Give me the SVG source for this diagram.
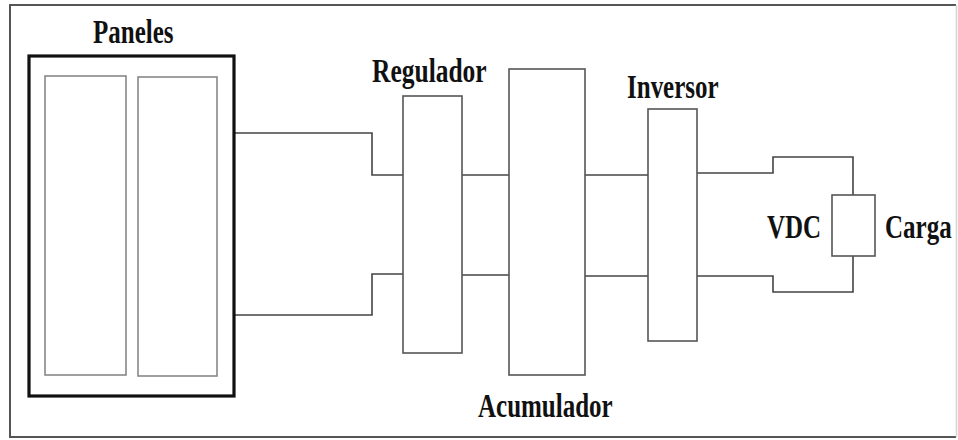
<svg xmlns="http://www.w3.org/2000/svg" width="958" height="440" viewBox="0 0 958 440">
  <style>
    .frame { fill: none; stroke: #555; stroke-width: 2; }
    .frame-edge { fill: none; stroke: #d4d4d4; stroke-width: 1.5; }
    .box { fill: #fff; stroke: #555; stroke-width: 1.6; }
    .panel { fill: #fff; stroke: #111; stroke-width: 3.2; }
    .cell { fill: #fff; stroke: #888; stroke-width: 1.6; }
    .wire { fill: none; stroke: #444; stroke-width: 1.6; }
    .lbl { font-family: "Liberation Serif", "Times New Roman", serif; font-weight: bold; font-size: 25px; fill: #111; }
  </style>
  <rect width="958" height="440" fill="#fff"/>
  <!-- outer border: top, left and bottom drawn solid, right edge faint -->
  <polyline class="frame" points="956,5 10,5 10,437 956,437"/>
  <line class="frame-edge" x1="956.5" y1="5" x2="956.5" y2="437"/>

  <g id="connectors">
    <!-- panel array to charge regulator -->
    <polyline class="wire" points="234,133 372,133 372,175 403,175"/>
    <polyline class="wire" points="234,315 372,315 372,274 403,274"/>
    <!-- regulator to battery bank -->
    <line class="wire" x1="462" y1="175" x2="509" y2="175"/>
    <line class="wire" x1="462" y1="275" x2="509" y2="275"/>
    <!-- battery bank to inverter -->
    <line class="wire" x1="585" y1="175" x2="648" y2="175"/>
    <line class="wire" x1="585" y1="276" x2="648" y2="276"/>
    <!-- inverter to load -->
    <polyline class="wire" points="697,173 773,173 773,157 853,157 853,195"/>
    <polyline class="wire" points="697,276 773,276 773,292 853,292 853,256"/>
  </g>

  <!-- labels use a tall, narrow serif: 25px type stretched vertically from its baseline -->
  <g id="paneles">
    <rect class="panel" x="29" y="56" width="205" height="340"/>
    <rect class="cell" x="45" y="76" width="81" height="299"/>
    <rect class="cell" x="138" y="77" width="79" height="299"/>
    <text class="lbl" transform="translate(93,43) scale(1,1.32)">Paneles</text>
  </g>

  <g id="regulador">
    <rect class="box" x="403" y="96" width="59" height="257"/>
    <text class="lbl" transform="translate(372,82) scale(1.02,1.32)">Regulador</text>
  </g>

  <g id="acumulador">
    <rect class="box" x="509" y="69" width="76" height="306"/>
    <text class="lbl" transform="translate(478,417) scale(1,1.32)">Acumulador</text>
  </g>

  <g id="inversor">
    <rect class="box" x="648" y="109" width="49" height="232"/>
    <text class="lbl" transform="translate(627,98) scale(1,1.32)">Inversor</text>
  </g>

  <g id="carga">
    <rect class="box" x="832" y="195" width="43" height="61"/>
    <text class="lbl" transform="translate(767,238) scale(1,1.32)">VDC</text>
    <text class="lbl" transform="translate(885,238) scale(1,1.32)">Carga</text>
  </g>
</svg>
